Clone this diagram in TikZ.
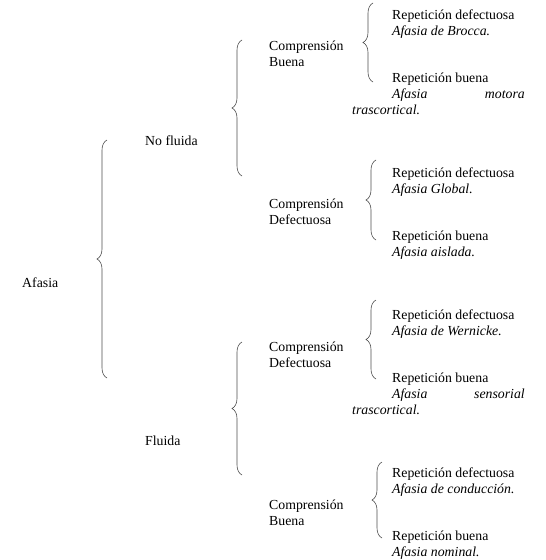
\documentclass[tikz,border=0pt]{standalone}
\usepackage{fontspec}
\setmainfont{Liberation Serif}
\usetikzlibrary{decorations.pathreplacing}

\begin{document}
\begin{tikzpicture}[
  x={(1pt,0pt)},
  y={(0pt,-1pt)},
  font=\fontsize{13.8}{16}\selectfont,
  lbl/.style={anchor=base west,inner sep=0pt,align=left},
  brc/.style={decorate,decoration={brace,amplitude=10pt},
    draw=gray!60!black,line width=0.6pt}
]
  \useasboundingbox (0,0) rectangle (546,560);

  % Levels one and two (base = last line).
  \node[lbl] (afasia) at (22,287) {Afasia};
  \node[lbl] (nofluida) at (145,145) {No fluida};
  \node[lbl] (fluida) at (145,445) {Fluida};

  % Level three: comprehension.
  \node[lbl] (cb1) at (269,66) {Comprensión\\Buena};
  \node[lbl] (cd1) at (269,224) {Comprensión\\Defectuosa};
  \node[lbl] (cd2) at (269,367) {Comprensión\\Defectuosa};
  \node[lbl] (cb2) at (269,525) {Comprensión\\Buena};

  % Level four: repetition and type of aphasia.
  \node[lbl] (rd1) at (392,35) {Repetición defectuosa\\\textit{Afasia de Brocca.}};
  \node[lbl] (rb1) at (392,98) {Repetición buena\\\textit{Afasia}};
  \node[anchor=base east,inner sep=0pt] (rb1b) at (525,98) {\textit{motora}};
  \node[lbl] (rb1c) at (352,114) {\textit{trascortical.}};

  \node[lbl] (rd2) at (392,193) {Repetición defectuosa\\\textit{Afasia Global.}};
  \node[lbl] (rb2) at (392,256) {Repetición buena\\\textit{Afasia aislada.}};

  \node[lbl] (rd3) at (392,335) {Repetición defectuosa\\\textit{Afasia de Wernicke.}};
  \node[lbl] (rb3) at (392,398) {Repetición buena\\\textit{Afasia}};
  \node[anchor=base east,inner sep=0pt] (rb3b) at (525,398) {\textit{sensorial}};
  \node[lbl] (rb3c) at (352,414) {\textit{trascortical.}};

  \node[lbl] (rd4) at (392,493) {Repetición defectuosa\\\textit{Afasia de conducción.}};
  \node[lbl] (rb4) at (392,556) {Repetición buena\\\textit{Afasia nominal.}};

  % Braces, drawn bottom to top so the tip points left.
  \draw[brc] (107,378) -- (107,140);
  \draw[brc] (242,176) -- (242,40);
  \draw[brc] (242,475) -- (242,342);
  \draw[brc] (373,82) -- (373,3);
  \draw[brc] (376,240) -- (376,160);
  \draw[brc] (376,379) -- (376,300);
  \draw[brc] (382,538) -- (382,462);
\end{tikzpicture}
\end{document}
